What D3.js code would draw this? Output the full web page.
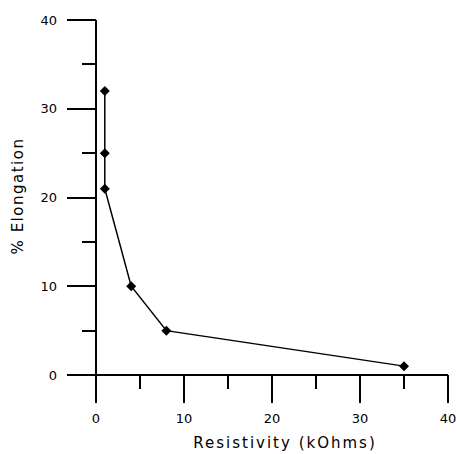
<!DOCTYPE html>
<html>
<head>
<meta charset="utf-8">
<script src="https://cdn.jsdelivr.net/npm/d3@7"></script>
<style>
  body { margin: 0; background: #fff; }
  text { font-family: "DejaVu Sans", sans-serif; fill: #000; }
</style>
</head>
<body>
<div id="chart"></div>
<script>
var resistivity = [1, 1, 1, 4, 8, 35];
var elongation = [32, 25, 21, 10, 5, 1];
var xTicks = [0, 10, 20, 30, 40];
var yTicks = [0, 10, 20, 30, 40];
var xMinor = [5, 15, 25, 35];
var yMinor = [5, 15, 25, 35];

var width = 457, height = 454;

var svg = d3.select("#chart")
    .append("svg")
    .attr("width", width)
    .attr("height", height);

var x = d3.scaleLinear().domain([0, 40]).range([96, 448]);
var y = d3.scaleLinear().domain([0, 40]).range([375, 20]);

var axes = svg.append("g")
    .attr("stroke", "#000")
    .attr("stroke-width", 2)
    .attr("shape-rendering", "crispEdges");

// axis lines
axes.append("line")
    .attr("x1", x(0)).attr("x2", x(0))
    .attr("y1", y(40)).attr("y2", y(0));
axes.append("line")
    .attr("x1", x(0)).attr("x2", x(40))
    .attr("y1", y(0)).attr("y2", y(0));

// y ticks
axes.selectAll(".ymaj").data(yTicks).enter().append("line")
    .attr("x1", x(0) - 29).attr("x2", x(0))
    .attr("y1", function (d) { return y(d); })
    .attr("y2", function (d) { return y(d); });
axes.selectAll(".ymin").data(yMinor).enter().append("line")
    .attr("x1", x(0) - 14).attr("x2", x(0))
    .attr("y1", function (d) { return y(d); })
    .attr("y2", function (d) { return y(d); });

// x ticks
axes.selectAll(".xmaj").data(xTicks).enter().append("line")
    .attr("x1", function (d) { return x(d); })
    .attr("x2", function (d) { return x(d); })
    .attr("y1", y(0)).attr("y2", y(0) + 28);
axes.selectAll(".xmin").data(xMinor).enter().append("line")
    .attr("x1", function (d) { return x(d); })
    .attr("x2", function (d) { return x(d); })
    .attr("y1", y(0)).attr("y2", y(0) + 14);

// tick labels
svg.selectAll(".ylab").data(yTicks).enter().append("text")
    .attr("x", 57)
    .attr("y", function (d) { return y(d); })
    .attr("dy", "0.36em")
    .attr("text-anchor", "end")
    .attr("font-size", 13)
    .text(function (d) { return d; });

svg.selectAll(".xlab").data(xTicks).enter().append("text")
    .attr("x", function (d) { return x(d); })
    .attr("y", 423)
    .attr("text-anchor", "middle")
    .attr("font-size", 13)
    .text(function (d) { return d; });

// axis titles
svg.append("text")
    .attr("x", 285)
    .attr("y", 448)
    .attr("text-anchor", "middle")
    .attr("font-size", 15)
    .attr("letter-spacing", 2)
    .text("Resistivity (kOhms)");

svg.append("text")
    .attr("transform", "translate(23,196) rotate(-90)")
    .attr("text-anchor", "middle")
    .attr("font-size", 15)
    .attr("letter-spacing", 1.5)
    .text("% Elongation");

// data
var pts = resistivity.map(function (r, i) { return [r, elongation[i]]; });

svg.append("path")
    .datum(pts)
    .attr("fill", "none")
    .attr("stroke", "#000")
    .attr("stroke-width", 1.5)
    .attr("d", d3.line()
        .x(function (d) { return x(d[0]); })
        .y(function (d) { return y(d[1]); }));

svg.selectAll(".pt").data(pts).enter().append("path")
    .attr("transform", function (d) { return "translate(" + x(d[0]) + "," + y(d[1]) + ")"; })
    .attr("d", "M0,-5L5,0L0,5L-5,0Z")
    .attr("fill", "#000");
</script>
</body>
</html>
